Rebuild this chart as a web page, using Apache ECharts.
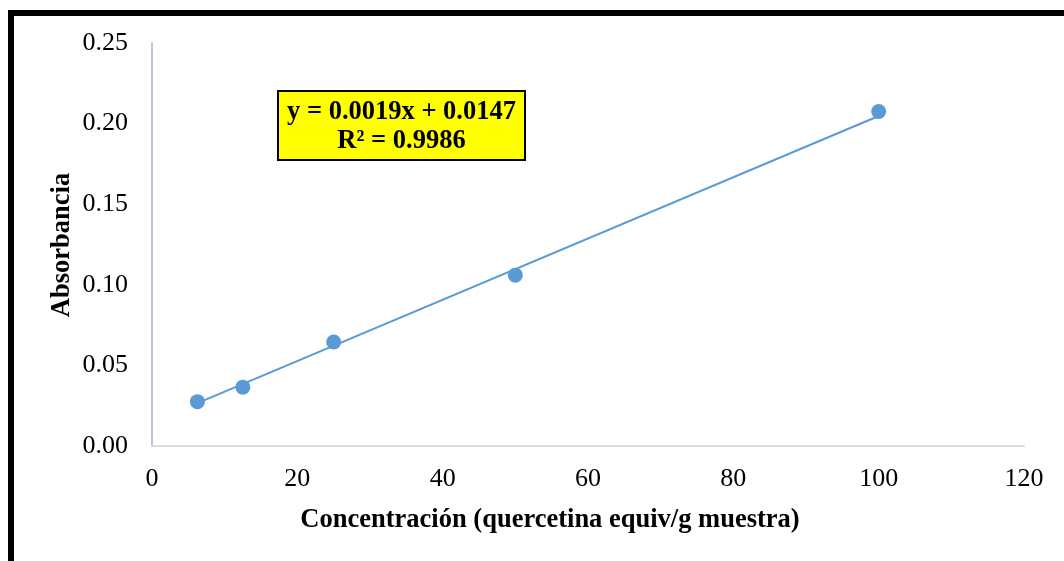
<!DOCTYPE html>
<html>
<head>
<meta charset="utf-8">
<script src="https://cdn.jsdelivr.net/npm/echarts@6/dist/echarts.min.js"></script>
<style>html,body{margin:0;padding:0;background:#fff}#c{width:1064px;height:561px}</style>
</head>
<body>
<div id="c"></div>
<script>
var concentrations = [6.25, 12.5, 25, 50, 100];
var absorbance = [0.0275, 0.0365, 0.0645, 0.106, 0.2075];
var trendX = [6.25, 100];
var trendY = [0.0266, 0.2047];
var equationText = 'y = 0.0019x + 0.0147';
var r2Text = 'R² = 0.9986';
var xTitle = 'Concentración (quercetina equiv/g muestra)';
var yTitle = 'Absorbancia';

var chart = echarts.init(document.getElementById('c'), null, {renderer: 'canvas'});
var serif = '"Liberation Serif", "Times New Roman", serif';
chart.setOption({
  animation: false,
  backgroundColor: '#ffffff',
  grid: {left: 152, right: 40, top: 43, bottom: 115, containLabel: false},
  xAxis: {
    type: 'value', min: 0, max: 120, interval: 20,
    axisLine: {show: true, lineStyle: {color: '#d9dde4', width: 2}},
    axisTick: {show: false},
    splitLine: {show: false},
    axisLabel: {color: '#000', fontFamily: serif, fontSize: 26, margin: 20}
  },
  yAxis: {
    type: 'value', min: 0, max: 0.25, interval: 0.05,
    axisLine: {show: true, lineStyle: {color: '#bcc6d8', width: 2}},
    axisTick: {show: false},
    splitLine: {show: false},
    axisLabel: {color: '#000', fontFamily: serif, fontSize: 26, margin: 24,
      formatter: function (v) { return v.toFixed(2); }}
  },
  graphic: [
    {type: 'rect', shape: {x: 11, y: 13, width: 1200, height: 700},
     style: {fill: 'none', stroke: '#000', lineWidth: 6}, silent: true, z: 100},
    {type: 'text', x: 550, y: 520, z: 50, style: {text: xTitle, fill: '#000',
      font: 'bold 26.5px ' + serif, textAlign: 'center', textVerticalAlign: 'middle'}},
    {type: 'text', x: 62, y: 245, rotation: Math.PI / 2, z: 50, style: {text: yTitle, fill: '#000',
      font: 'bold 26.5px ' + serif, textAlign: 'center', textVerticalAlign: 'middle'}},
    {type: 'group', left: 277, top: 90, z: 50, children: [
      {type: 'rect', shape: {x: 0, y: 0, width: 247, height: 69},
       style: {fill: '#ffff00', stroke: '#000', lineWidth: 2}},
      {type: 'text', x: 123.5, y: 21, style: {text: equationText, fill: '#000',
        font: 'bold 26.5px ' + serif, textAlign: 'center', textVerticalAlign: 'middle'}},
      {type: 'text', x: 123.5, y: 50, style: {text: r2Text, fill: '#000',
        font: 'bold 26.5px ' + serif, textAlign: 'center', textVerticalAlign: 'middle'}}
    ]}
  ],
  series: [
    {
      type: 'line', data: trendX.map(function (x, i) { return [x, trendY[i]]; }),
      symbol: 'none', lineStyle: {color: '#5b9bd5', width: 2}, z: 2, silent: true
    },
    {
      type: 'scatter', data: concentrations.map(function (x, i) { return [x, absorbance[i]]; }),
      symbol: 'circle', symbolSize: 15, itemStyle: {color: '#5b9bd5', opacity: 1}, z: 3
    }
  ]
});
</script>
</body>
</html>
